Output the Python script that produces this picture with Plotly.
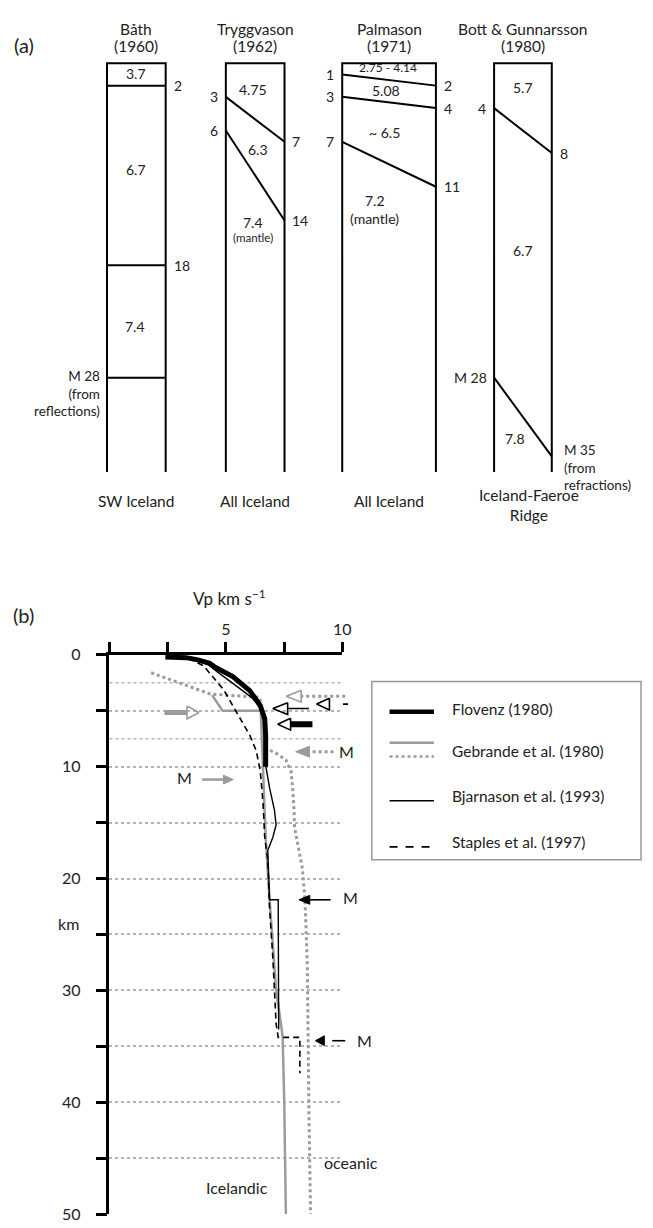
import plotly.graph_objects as go

# ---------------- (a) published crustal models ----------------
authors = ["Båth", "Tryggvason", "Palmason", "Bott & Gunnarsson"]
years = ["(1960)", "(1962)", "(1971)", "(1980)"]
regions = ["SW Iceland", "All Iceland", "All Iceland", "Iceland-Faeroe<br>Ridge"]

# layer boundaries: depth (km) where each interface meets the left / right side
bath_left_km = [2, 18, 28]
bath_right_km = [2, 18, 28]
tryg_left_km = [3, 6]
tryg_right_km = [7, 14]
palm_left_km = [1, 3, 7]
palm_right_km = [2, 4, 11]
bott_left_km = [4, 28]
bott_right_km = [8, 35]

# layer velocities (km/s)
bath_vp = ["3.7", "6.7", "7.4"]
tryg_vp = ["4.75", "6.3", "7.4"]
palm_vp = ["2.75 - 4.14", "5.08", "~ 6.5", "7.2"]
bott_vp = ["5.7", "6.7", "7.8"]

# ---------------- (b) Vp-depth profiles ----------------
flovenz_km = [0.2, 0.25, 0.45, 0.75, 1.05, 1.95, 3.2, 4.55, 5.7, 7.2, 10.0]
flovenz_vp = [2.4, 3.3, 3.8, 4.3, 4.5, 5.3, 6.03, 6.48, 6.67, 6.71, 6.71]

gebr_ice_km = [3.6, 5.0, 5.0, 10.0, 16.3, 21.9, 30.0, 33.0, 34.2, 40.0, 50.0]
gebr_ice_vp = [4.41, 4.86, 6.5, 6.6, 6.71, 6.88, 7.16, 7.37, 7.44, 7.51, 7.58]

gebr_oce_km = [1.6, 2.35, 3.08, 3.5, 3.7, 3.8, 6.0, 8.36, 8.8, 9.4, 10.4, 11.9,
               13.9, 15.4, 19.1, 21.9, 27.7, 33.0, 40.8, 50.0]
gebr_oce_vp = [1.79, 2.78, 3.77, 4.33, 5.75, 6.45, 6.65, 6.74, 7.16, 7.58, 7.8, 7.87,
               7.93, 7.95, 8.29, 8.4, 8.5, 8.52, 8.57, 8.64]

bjarn_km = [0.1, 0.3, 0.8, 1.5, 2.8, 3.8, 4.6, 5.7, 7.2, 10.0, 11.9, 13.9, 15.2,
            16.3, 17.5, 21.9, 21.9, 33.5]
bjarn_vp = [2.6, 3.6, 4.2, 4.62, 5.46, 6.1, 6.45, 6.65, 6.71, 6.72, 6.88, 7.09, 7.16,
            7.02, 6.8, 6.88, 7.25, 7.27]

staples_km = [0.3, 1.0, 3.1, 5.1, 7.2, 8.6, 10.4, 13.3, 16.3, 18.3, 22.7, 27.1,
              33.0, 34.2, 34.2, 37.4]
staples_vp = [3.4, 4.05, 4.9, 5.46, 6.03, 6.31, 6.48, 6.6, 6.67, 6.8, 6.88, 7.02,
              7.16, 7.25, 8.18, 8.18]

legend_names = ["Flovenz (1980)", "Gebrande et al. (1980)",
                "Bjarnason et al. (1993)", "Staples et al. (1997)"]

x_tickvals = [5, 10]
x_minor_ticks = [0, 2.5, 7.5]
y_tickvals = [0, 10, 20, 30, 40, 50]
y_minor_ticks = [5, 15, 25, 35, 45]
extra_grid_km = [2.5, 7.5]

# ---------------- page geometry ----------------
W, H = 653, 1228
FONT = "Lato"
GRAY = "#9b9b9b"
GRID = "#b4b4b4"
TXT = "#222"


def px(x):
    return x / W


def py(y):
    return 1 - y / H


# panel (a): x in page-pixel units, y in km
A_TOP_PX, A_SCALE = 54.0, 11.41
A_DOM_PX = (0, 530)
a_yrange = [(A_DOM_PX[1] - A_TOP_PX) / A_SCALE, (A_DOM_PX[0] - A_TOP_PX) / A_SCALE]
COL_LEFT = [108.5, 229, 347, 501]
COL_RIGHT = [168, 288.5, 442, 559.5]
COL_BASE_KM = 36.4

# panel (b): Vp axis 0-10 over x px 111-347, depth 0-50 over y px 655-1223
B_X0, B_X1 = 111, 347
B_Y0, B_Y1 = 655, 1223
B_XS = (B_X1 - B_X0) / 10.0
B_YS = (B_Y1 - B_Y0) / 50.0
b_ydom = [py(B_Y1), py(B_Y0)]

fig = go.Figure()


def add_line(x, y, xa, ya, color="black", width=2, dash="solid", fill=None):
    fig.add_trace(go.Scatter(
        x=x, y=y, mode="lines", xaxis=xa, yaxis=ya,
        line=dict(color=color, width=width, dash=dash),
        fill=fill, fillcolor=color if fill else None,
        hoverinfo="skip", showlegend=False))


def note(text, x, y, xref, yref, size=14, xanchor="center", yanchor="middle",
         yshift=0, align="center", color=TXT):
    fig.add_annotation(text=text, x=x, y=y, xref=xref, yref=yref, showarrow=False,
                       xanchor=xanchor, yanchor=yanchor, yshift=yshift, align=align,
                       font=dict(family=FONT, size=size, color=color))


# ---------------- draw panel (a) ----------------
boundaries = [(bath_left_km, bath_right_km), (tryg_left_km, tryg_right_km),
              (palm_left_km, palm_right_km), (bott_left_km, bott_right_km)]

for i in range(4):
    L, R = COL_LEFT[i], COL_RIGHT[i]
    add_line([L, L, R, R], [COL_BASE_KM, 0, 0, COL_BASE_KM], "x", "y", width=2)
    for dl, dr in zip(*boundaries[i]):
        add_line([L, R], [dl, dr], "x", "y", width=2)
    cx = (L + R) / 2
    note(authors[i], cx, -3.07, "x", "y", size=15.5)
    note(years[i], cx, -1.52, "x", "y", size=15.5)
    if i < 3:
        note(regions[i], cx, 39.0, "x", "y", size=15.5)
    else:
        note(regions[i], cx + 6, 39.3, "x", "y", size=15.5)

GAP = 6
# Båth: flat interfaces labelled on the right, Moho on the left
for d in bath_left_km[:-1]:
    note(str(d), COL_RIGHT[0] + GAP, d, "x", "y", xanchor="left")
note(f"M {bath_left_km[-1]}<br>(from<br>reflections)", COL_LEFT[0] - GAP + 1,
     bath_left_km[-1], "x", "y", size=13.5, xanchor="right", yanchor="top",
     yshift=12, align="right")

for i, (lefts, rights) in enumerate(boundaries[1:3], start=1):
    for d in lefts:
        note(str(d), COL_LEFT[i] - GAP, d, "x", "y", xanchor="right")
    for d in rights:
        note(str(d), COL_RIGHT[i] + GAP, d, "x", "y", xanchor="left")

note(str(bott_left_km[0]), COL_LEFT[3] - GAP, bott_left_km[0], "x", "y", xanchor="right")
note(str(bott_right_km[0]), COL_RIGHT[3] + GAP, bott_right_km[0], "x", "y", xanchor="left")
note(f"M {bott_left_km[1]}", COL_LEFT[3] - GAP + 1, bott_left_km[1], "x", "y", xanchor="right")
note(f"M {bott_right_km[1]}<br>(from<br>refractions)", COL_RIGHT[3] + 10,
     bott_right_km[1], "x", "y", size=13.5, xanchor="left", yanchor="top",
     yshift=16, align="left")

# velocity labels inside the layers (x px, depth km)
bath_vp_pos = [(138, 0.95), (138, 9.5), (137, 23.4)]
tryg_vp_pos = [(257, 2.37), (262, 7.69), (257, 14.15)]
palm_vp_pos = [(393, 0.36), (391, 2.46), (390, 6.16), (380, 12.2)]
bott_vp_pos = [(530, 2.19), (530, 16.65), (522, 33.4)]
for labels, pos in [(bath_vp, bath_vp_pos), (tryg_vp, tryg_vp_pos),
                    (palm_vp, palm_vp_pos), (bott_vp, bott_vp_pos)]:
    for t, (x, d) in zip(labels, pos):
        note(t, x, d, "x", "y", size=12 if len(t) > 6 else 14)
note("(mantle)", 257, 15.55, "x", "y", size=11.5)
note("(mantle)", 380, 13.87, "x", "y", size=14)

# ---------------- draw panel (b) ----------------
add_line(gebr_oce_vp, gebr_oce_km, "x2", "y2", color=GRAY, width=3, dash="dot")
add_line(gebr_ice_vp, gebr_ice_km, "x2", "y2", color=GRAY, width=2.5)
add_line(staples_vp, staples_km, "x2", "y2", width=1.6, dash="6px,4px")
add_line(bjarn_vp, bjarn_km, "x2", "y2", width=1.4)
add_line(flovenz_vp, flovenz_km, "x2", "y2", width=5)


def arrow(tail, tip, depth, color, width, dash, head, hlen, hw):
    """Horizontal arrow in Vp/depth units; head size given in pixels."""
    s = 1 if tip > tail else -1
    base = tip - s * hlen / B_XS
    dy = hw / B_YS
    add_line([tail, base], [depth, depth], "x3", "y3", color=color, width=width, dash=dash)
    hx = [base, tip, base, base]
    hy = [depth - dy, depth, depth + dy, depth - dy]
    if head == "open":
        add_line(hx, hy, "x3", "y3", color=color, width=1.6)
    else:
        add_line(hx, hy, "x3", "y3", color=color, width=1, fill="toself")


arrows = [
    dict(tail=2.36, tip=3.84, depth=5.15, color=GRAY, width=5, dash="solid", head="open", hlen=12, hw=6.5),
    dict(tail=8.57, tip=7.02, depth=4.8, color="black", width=1.5, dash="solid", head="open", hlen=15, hw=6),
    dict(tail=8.72, tip=7.23, depth=6.2, color="black", width=6, dash="solid", head="open", hlen=13, hw=6),
    dict(tail=10.13, tip=7.6, depth=3.7, color=GRAY, width=3, dash="dot", head="open", hlen=15, hw=6),
    dict(tail=10.25, tip=8.9, depth=4.4, color="black", width=1.6, dash="5px,15px", head="open", hlen=13, hw=6),
    dict(tail=9.63, tip=8.0, depth=8.66, color=GRAY, width=3, dash="dot", head="fill", hlen=14, hw=5.5),
    dict(tail=3.98, tip=5.32, depth=11.15, color=GRAY, width=2.5, dash="solid", head="fill", hlen=10, hw=4.5),
    dict(tail=9.5, tip=8.14, depth=21.9, color="black", width=1.6, dash="solid", head="fill", hlen=11, hw=4.5),
    dict(tail=10.13, tip=8.85, depth=34.5, color="black", width=1.6, dash="13px,10px", head="fill", hlen=9, hw=5),
]
for a in arrows:
    arrow(**a)

for x, d in [(10.2, 8.66), (3.21, 11.0), (10.34, 21.7), (10.97, 34.5)]:
    note("M", x, d, "x3", "y3", size=16)
note("Icelandic", 5.47, 47.6, "x3", "y3", size=16)
note("oceanic", 9.14, 45.4, "x3", "y3", size=16, xanchor="left")

# axis title and panel letters
note("Vp km s<sup>−1</sup>", px(233), py(597), "paper", "paper", size=17)
note("km", px(69), py(928), "paper", "paper", size=16)
note("(a)", px(24), py(36), "paper", "paper", size=20)
note("(b)", px(24), py(614), "paper", "paper", size=20)

shapes = []
# dotted half-interval grid lines near the surface
for g in extra_grid_km:
    shapes.append(dict(type="line", xref="x2", yref="y2", x0=0, x1=10, y0=g, y1=g,
                       line=dict(color=GRID, width=1.5, dash="dot"), layer="below"))

# legend box
shapes.append(dict(type="rect", xref="paper", yref="paper", x0=px(377), x1=px(650),
                   y0=py(863), y1=py(682), line=dict(color="#999", width=1.5)))
samples = [(712.7, "black", 4.5, "solid"), (744.3, GRAY, 2.5, "solid"),
           (758.3, GRAY, 2.5, "dot"), (803.3, "black", 1.5, "solid"),
           (850.0, "black", 1.8, "8px,8px")]
for yy, c, w, dsh in samples:
    shapes.append(dict(type="line", xref="paper", yref="paper", x0=px(395), x1=px(440),
                       y0=py(yy), y1=py(yy), line=dict(color=c, width=w, dash=dsh)))
for name, yy in zip(legend_names, [710, 753, 798, 845]):
    note(name, px(456), py(yy), "paper", "paper", size=15.5, xanchor="left")

axis_font = dict(family=FONT, size=16, color=TXT)
fig.update_layout(
    width=W, height=H, margin=dict(l=0, r=0, t=0, b=0),
    paper_bgcolor="white", plot_bgcolor="rgba(0,0,0,0)",
    showlegend=False, shapes=shapes,
    xaxis=dict(domain=[0, 1], range=[0, W], visible=False, anchor="y"),
    yaxis=dict(domain=[py(A_DOM_PX[1]), 1], range=a_yrange, visible=False, anchor="x"),
    xaxis2=dict(domain=[px(B_X0), px(B_X1)], range=[0, 10], anchor="y2", side="top",
                showline=True, linecolor="black", linewidth=2.5,
                ticks="outside", ticklen=10, tickwidth=2.5, tickcolor="black",
                tickmode="array", tickvals=x_tickvals,
                minor=dict(tickmode="array", tickvals=x_minor_ticks, ticks="outside",
                           ticklen=10, tickwidth=2.5, tickcolor="black", showgrid=False),
                tickfont=axis_font, ticklabelstandoff=1, ticklabeloverflow="allow",
                showgrid=False, zeroline=False),
    yaxis2=dict(domain=b_ydom, range=[50, 0], anchor="x2", side="left",
                showline=True, linecolor="black", linewidth=2.5,
                ticks="outside", ticklen=11, tickwidth=2.5, tickcolor="black",
                tickmode="array", tickvals=y_tickvals,
                tickfont=axis_font, ticklabelstandoff=12, ticklabeloverflow="allow",
                showgrid=True, gridcolor=GRID, griddash="dot", gridwidth=1.5,
                minor=dict(tickmode="array", tickvals=y_minor_ticks, ticks="outside",
                           ticklen=11, tickwidth=2.5, tickcolor="black", showgrid=True,
                           gridcolor=GRID, griddash="dot", gridwidth=1.5),
                zeroline=False),
    xaxis3=dict(domain=[0, 1], range=[-B_X0 / B_XS, (W - B_X0) / B_XS], visible=False, anchor="y3"),
    yaxis3=dict(domain=b_ydom, range=[50, 0], visible=False, anchor="x3"),
)

fig.write_html("out.html", config={"displayModeBar": False})
